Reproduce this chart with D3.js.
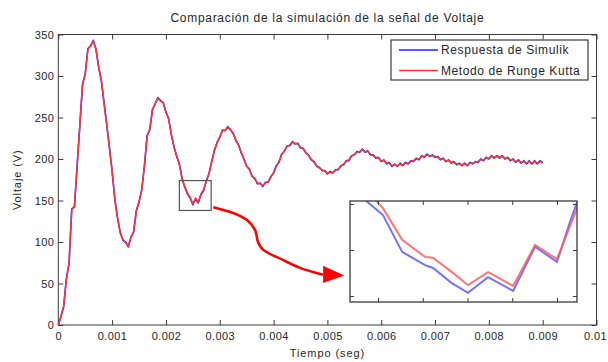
<!DOCTYPE html>
<html>
<head>
<meta charset="utf-8">
<script src="https://cdn.jsdelivr.net/npm/d3@7"></script>
<style>
  body { margin: 0; background: #fff; }
  svg { display: block; font-family: "Liberation Sans", Arial, sans-serif; }
  svg text { letter-spacing: 0.9px; }
  svg .tick text { letter-spacing: 0.4px; }
</style>
</head>
<body>
<svg id="chart" width="608" height="362"></svg>
<script>
// sampled every 50 us, from t = 0 to t = 0.009 s
const sampleStep = 0.00005;

const simulink = [
  0, 10, 22, 56, 74, 140, 142, 192, 240, 290,
  302, 333, 336, 343, 332, 311, 294, 268, 241, 214,
  185, 152, 129, 112, 102, 100, 94, 106, 112, 138,
  148, 163, 191, 228, 235, 260, 266, 274, 270, 268,
  256, 249, 229, 215, 203, 194, 176, 166, 158, 153,
  145, 152, 147, 157, 162, 174, 182, 197, 210, 220,
  226, 235, 234, 239, 235, 231, 222, 217, 207, 200,
  191, 188, 179, 177, 170, 171, 167, 172, 172, 179,
  183, 192, 196, 206, 209, 216, 216, 221, 218, 219,
  213, 213, 207, 205, 199, 197, 191, 190, 186, 186,
  182, 185, 183, 187, 187, 192, 193, 198, 198, 204,
  205, 209, 208, 212, 208, 210, 205, 205, 201, 202,
  197, 199, 194, 196, 191, 194, 191, 195, 192, 196,
  194, 198, 197, 201, 199, 204, 202, 206, 203, 205,
  202, 203, 199, 201, 197, 199, 195, 197, 193, 195,
  192, 195, 192, 196, 194, 197, 196, 200, 198, 202,
  200, 204, 201, 204, 201, 204, 200, 202, 198, 200,
  196, 199, 195, 198, 194, 198, 194, 198, 194, 198,
  195
];

const rungeKutta = [
  0, 11, 23, 55, 75, 139, 143, 191, 241, 289,
  303, 332, 337, 342, 333, 310, 295, 267, 242, 213,
  186, 151, 130, 111, 103, 99, 95, 105, 113, 137,
  149, 162, 192, 227, 236, 259, 267, 273, 271, 267,
  257, 248, 230, 214, 204, 193, 177, 167, 159, 154,
  146, 153, 148, 158, 163, 173, 183, 196, 211, 219,
  227, 234, 235, 238, 236, 230, 223, 216, 208, 199,
  192, 187, 180, 176, 171, 170, 168, 171, 173, 178,
  184, 191, 197, 205, 210, 215, 217, 220, 219, 218,
  214, 212, 208, 204, 200, 196, 192, 189, 187, 185,
  183, 184, 184, 186, 188, 191, 194, 197, 199, 203,
  206, 208, 209, 211, 209, 209, 206, 204, 202, 201,
  198, 198, 195, 195, 192, 193, 192, 194, 193, 195,
  195, 197, 198, 200, 200, 203, 203, 205, 204, 204,
  203, 202, 200, 200, 198, 198, 196, 196, 194, 194,
  193, 194, 193, 195, 195, 196, 197, 199, 199, 201,
  201, 203, 202, 203, 202, 203, 201, 201, 199, 199,
  197, 198, 196, 197, 195, 197, 195, 197, 195, 197,
  196
];

// zoomed detail around the second minimum
const zoomTime = [0.00225, 0.002311, 0.002354, 0.002405, 0.002423, 0.002465, 0.002501,
  0.002546, 0.002602, 0.002651, 0.0027, 0.002729, 0.002745, 0.00277];
const zoomSimulink = [162.6, 157.6, 149.6, 146.7, 146.1, 142.8, 140.7,
  144.1, 141.1, 150.7, 147.4, 156.1, 160.4, 166];
const zoomRungeKutta = [165.5, 159.1, 152.2, 148.5, 148.3, 145.2, 142.4,
  145.2, 142.2, 151.1, 148.0, 155.2, 159.1, 164];

const xTicks = [0, 0.001, 0.002, 0.003, 0.004, 0.005, 0.006, 0.007, 0.008, 0.009, 0.01];
const xTickLabels = ['0', '0.001', '0.002', '0.003', '0.004', '0.005', '0.006', '0.007', '0.008', '0.009', '0.01'];
const yTicks = [0, 50, 100, 150, 200, 250, 300, 350];
const zoomXTicks = [0.0023, 0.0024, 0.0025, 0.0026, 0.0027];
const zoomYTicks = [140, 150, 160];

const seriesNames = ['Respuesta de Simulik', 'Metodo de Runge Kutta'];
const seriesColors = ['#2222ff', '#ff3535'];

// rectangle marked on the main plot [t0, t1], [v0, v1]
const markT = [0.00225, 0.00284];
const markV = [138, 174];
// arrow from the marked box to the inset, in data units
const arrowPts = [[0.00288, 142], [0.003246, 135], [0.0035, 126.7], [0.003655, 114.6],
  [0.003716, 98.9], [0.003809, 90.5], [0.004175, 78.4], [0.004491, 68.8], [0.00492, 60.5]];
const arrowHead = [[0.00492, 71.5], [0.005314, 59.5], [0.00492, 50.5]];

const TEXT = '#262626';
const FRAME = '#3a3a3a';

const svg = d3.select('#chart');

const x = d3.scaleLinear().domain([0, 0.01]).range([58.3, 596.5]);
const y = d3.scaleLinear().domain([0, 350]).range([325, 34.5]);

const plot = svg.append('g');

// axes with ticks pointing inward on all four sides
const axBottom = plot.append('g')
  .attr('transform', `translate(0,${y(0)})`)
  .call(d3.axisBottom(x).tickValues(xTicks).tickSize(-5).tickPadding(7)
    .tickFormat((d, i) => xTickLabels[i]));
const axLeft = plot.append('g')
  .attr('transform', `translate(${x(0)},0)`)
  .call(d3.axisLeft(y).tickValues(yTicks).tickSize(-5).tickPadding(4));
const axTop = plot.append('g')
  .attr('transform', `translate(0,${y(350)})`)
  .call(d3.axisTop(x).tickValues(xTicks).tickSize(-5).tickFormat(''));
const axRight = plot.append('g')
  .attr('transform', `translate(${x(0.01)},0)`)
  .call(d3.axisRight(y).tickValues(yTicks).tickSize(-5).tickFormat(''));

[axBottom, axLeft, axTop, axRight].forEach(g => {
  g.select('.domain').remove();
  g.selectAll('line').attr('stroke', FRAME);
  g.selectAll('text')
    .attr('fill', TEXT)
    .style('font-size', '11px')
    .style('font-family', '"Liberation Sans", Arial, sans-serif');
});
// last x label sits on the window edge: keep it inside
axBottom.selectAll('text').filter((d, i) => i === xTicks.length - 1)
  .attr('text-anchor', 'end').attr('x', 10);

plot.append('rect')
  .attr('x', x(0)).attr('y', y(350))
  .attr('width', x(0.01) - x(0)).attr('height', y(0) - y(350))
  .attr('fill', 'none').attr('stroke', FRAME).attr('stroke-width', 1);

// curves: blue underneath, red drawn over it
const mainLine = d3.line()
  .x((d, i) => x(i * sampleStep))
  .y(d => y(d));

[simulink, rungeKutta].forEach((s, k) => {
  plot.append('path')
    .datum(s)
    .attr('d', mainLine)
    .attr('fill', 'none')
    .attr('stroke', seriesColors[k])
    .attr('stroke-width', k === 0 ? 1.6 : 1.5)
    .attr('stroke-linejoin', 'round');
});

// marked box
plot.append('rect')
  .attr('x', x(markT[0])).attr('y', y(markV[1]))
  .attr('width', x(markT[1]) - x(markT[0]))
  .attr('height', y(markV[0]) - y(markV[1]))
  .attr('fill', 'none').attr('stroke', '#555').attr('stroke-width', 1.2);

// arrow
plot.append('path')
  .datum(arrowPts)
  .attr('d', d3.line().x(d => x(d[0])).y(d => y(d[1])).curve(d3.curveCatmullRom))
  .attr('fill', 'none').attr('stroke', '#ff0000').attr('stroke-width', 2.6);
plot.append('path')
  .datum(arrowHead)
  .attr('d', d3.line().x(d => x(d[0])).y(d => y(d[1])))
  .attr('fill', '#ff0000');

// inset
const inset = { left: 350, top: 201, width: 227, height: 101 };
const zx = d3.scaleLinear().domain([0.0022374, 0.0027447]).range([inset.left, inset.left + inset.width]);
const zy = d3.scaleLinear().domain([138.7, 160.65]).range([inset.top + inset.height, inset.top]);

const ins = svg.append('g');
ins.append('rect')
  .attr('x', inset.left).attr('y', inset.top)
  .attr('width', inset.width).attr('height', inset.height)
  .attr('fill', '#fff');

svg.append('defs').append('clipPath').attr('id', 'insetClip')
  .append('rect')
  .attr('x', inset.left).attr('y', inset.top)
  .attr('width', inset.width).attr('height', inset.height);

const zoomLine = d3.line()
  .x((d, i) => zx(zoomTime[i]))
  .y(d => zy(d));

[zoomSimulink, zoomRungeKutta].forEach((s, k) => {
  ins.append('path')
    .datum(s)
    .attr('clip-path', 'url(#insetClip)')
    .attr('d', zoomLine)
    .attr('fill', 'none')
    .attr('stroke', k === 0 ? '#5a5aff' : '#ff5a5a')
    .attr('stroke-width', 2)
    .attr('stroke-opacity', 0.85);
});

const zAxes = [
  ins.append('g').attr('transform', `translate(0,${inset.top + inset.height})`)
    .call(d3.axisBottom(zx).tickValues(zoomXTicks).tickSize(-4).tickFormat('')),
  ins.append('g').attr('transform', `translate(0,${inset.top})`)
    .call(d3.axisTop(zx).tickValues(zoomXTicks).tickSize(-4).tickFormat('')),
  ins.append('g').attr('transform', `translate(${inset.left},0)`)
    .call(d3.axisLeft(zy).tickValues(zoomYTicks).tickSize(-4).tickFormat('')),
  ins.append('g').attr('transform', `translate(${inset.left + inset.width},0)`)
    .call(d3.axisRight(zy).tickValues(zoomYTicks).tickSize(-4).tickFormat(''))
];
zAxes.forEach(g => {
  g.select('.domain').remove();
  g.selectAll('line').attr('stroke', FRAME);
});

ins.append('rect')
  .attr('x', inset.left).attr('y', inset.top)
  .attr('width', inset.width).attr('height', inset.height)
  .attr('fill', 'none').attr('stroke', FRAME).attr('stroke-width', 1.3);

// legend
const legend = svg.append('g').attr('transform', 'translate(391,40)');
legend.append('rect')
  .attr('width', 197).attr('height', 40)
  .attr('fill', '#fff').attr('stroke', FRAME).attr('stroke-width', 1.2);
seriesNames.forEach((name, i) => {
  const cy = 10 + i * 20.5;
  legend.append('line')
    .attr('x1', 8).attr('x2', 47).attr('y1', cy).attr('y2', cy)
    .attr('stroke', seriesColors[i]).attr('stroke-width', 1.3);
  legend.append('text')
    .attr('x', 50).attr('y', cy).attr('dy', '0.35em')
    .attr('fill', TEXT).style('font-size', '12px')
    .style('letter-spacing', '0.6px')
    .text(name);
});

// titles
svg.append('text')
  .attr('x', (x(0) + x(0.01)) / 2).attr('y', 22)
  .attr('text-anchor', 'middle').attr('fill', TEXT)
  .style('font-size', '12px')
  .style('letter-spacing', '0.7px')
  .text('Comparación de la simulación de la señal de Voltaje');

svg.append('text')
  .attr('x', (x(0) + x(0.01)) / 2).attr('y', 357)
  .attr('text-anchor', 'middle').attr('fill', TEXT)
  .style('font-size', '11px')
  .text('Tiempo (seg)');

svg.append('text')
  .attr('transform', `translate(21,${(y(0) + y(350)) / 2}) rotate(-90)`)
  .attr('text-anchor', 'middle').attr('fill', TEXT)
  .style('font-size', '11px')
  .text('Voltaje (V)');
</script>
</body>
</html>
